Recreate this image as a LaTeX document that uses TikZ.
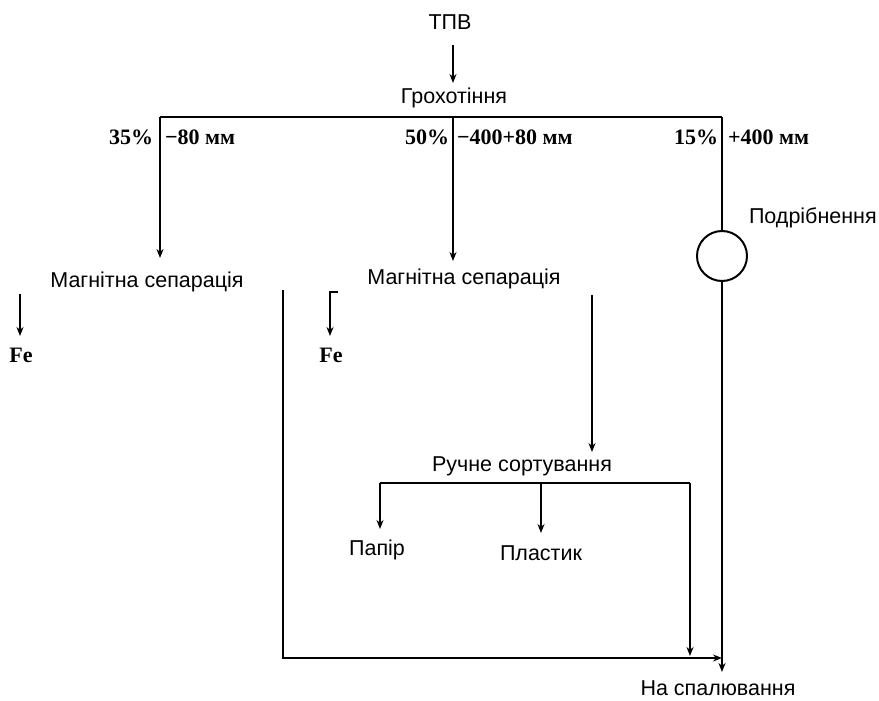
\documentclass[tikz,border=0pt]{standalone}
\usepackage{fontspec}
\setmainfont{Liberation Sans}
\newfontfamily\serifb{Liberation Serif}
\usetikzlibrary{arrows.meta}
\begin{document}
\begin{tikzpicture}[x=1pt,y=-1pt,line width=2pt,
  lbl/.style={font=\fontsize{21.5}{25}\selectfont,inner sep=0pt},
  pct/.style={font=\fontsize{22}{25}\selectfont\serifb\bfseries,inner sep=0pt},
  flow/.style={-{Stealth[length=9pt,width=7pt]}},
  unit/.style={circle,draw,line width=2pt,minimum size=50pt,inner sep=0pt}]
\useasboundingbox[fill=white] (0,0) rectangle (879,701);

% nodes
\node[lbl] (tpv) at (450,22) {ТПВ};
\node[lbl] (groh) at (454,98) {Грохотіння};
\node[pct,anchor=east] (p35) at (154,137) {35\%};
\node[pct,anchor=west] (m80) at (164,137) {−80 мм};
\node[pct,anchor=east] (p50) at (450,137) {50\%};
\node[pct,anchor=west] (m400) at (456,137) {−400+80 мм};
\node[pct,anchor=east] (p15) at (719,137) {15\%};
\node[pct,anchor=west] (p400) at (727,137) {+400 мм};
\node[unit] (crush) at (722,256) {};
\node[lbl,anchor=west] (podr) at (748,218) {Подрібнення};
\node[lbl] (ms1) at (147,282) {Магнітна сепарація};
\node[lbl] (ms2) at (464,279) {Магнітна сепарація};
\node[pct] (fe1) at (21,355) {Fe};
\node[pct] (fe2) at (331,355) {Fe};
\node[lbl] (rs) at (522,466) {Ручне сортування};
\node[lbl] (pap) at (377,550) {Папір};
\node[lbl] (pl) at (541,553) {Пластик};
\node[lbl] (burn) at (718,688) {На спалювання};

% junctions
\coordinate (jc) at (453,117);
\coordinate (jl) at (160,117);
\coordinate (jr) at (722,117);
\coordinate (fe1s) at (20,294);
\coordinate (fe2h) at (338,292);
\coordinate (fe2s) at (330,292);
\coordinate (nm1) at (283,290);
\coordinate (nm1b) at (283,658);
\coordinate (nm2) at (592,295);
\coordinate (rsl) at (380,483);
\coordinate (rsc) at (541,483);
\coordinate (rsr) at (690,483);
\coordinate (rsrb) at (690,656);
\coordinate (mix) at (722,658);
\coordinate (burnt) at (722,672);

% connectors
\draw[flow] (453,45) -- ([yshift=4pt]groh.north -| 453,0);
\draw (jl) -- (jr);
\draw[flow] (jl) -- (160,258);
\draw[flow] (jc) -- (453,261);
\draw (jr) -- (crush.north);
\draw[flow] (crush.south) -- (burnt);
\draw[flow] (fe1s) -- (20,336);
\draw[flow] (fe2h) -- (fe2s) -- (330,336);
\draw[flow] (nm1) -- (nm1b) -- (mix);
\draw[flow] (nm2) -- (592,452);
\draw (rsl) -- (rsr);
\draw[flow] (rsl) -- (380,529);
\draw[flow] (rsc) -- (541,533);
\draw[flow] (rsr) -- (rsrb);
\end{tikzpicture}
\end{document}
